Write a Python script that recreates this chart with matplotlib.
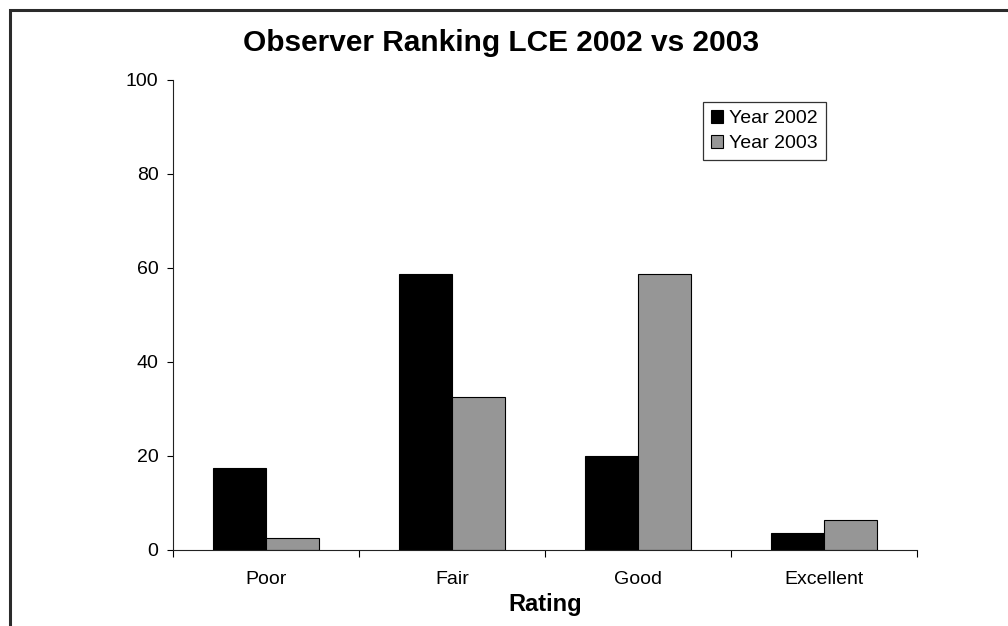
import numpy as np
import matplotlib
matplotlib.use("Agg")
import matplotlib.pyplot as plt
from matplotlib.patches import Rectangle, Patch

plt.rcParams['font.family'] = ['Liberation Sans', 'DejaVu Sans']

# ---------------------------------------------------------
# Data
# ---------------------------------------------------------
categories = ["Poor", "Fair", "Good", "Excellent"]
year_2002 = [17.5, 58.7, 19.9, 3.7]
year_2003 = [2.6, 32.5, 58.7, 6.3]
series_labels = ["Year 2002", "Year 2003"]
y_ticks = [0, 20, 40, 60, 80, 100]

colors = ["#000000", "#969696"]

fig = plt.figure(figsize=(10.08, 6.26), dpi=100)
ax = fig.add_axes([173 / 1008, 1 - 550 / 626, 744 / 1008, 470 / 626])

x = np.arange(len(categories))
w = 0.285
ax.bar(x - w / 2, year_2002, width=w, color=colors[0], edgecolor="black", linewidth=0.8)
ax.bar(x + w / 2, year_2003, width=w, color=colors[1], edgecolor="black", linewidth=0.8)

ax.set_xlim(-0.5, len(categories) - 0.5)
ax.set_ylim(0, 100)
ax.set_yticks(y_ticks)
ax.set_xticks(x)
ax.set_xticklabels(categories)
ax.set_xticks(np.arange(len(categories) + 1) - 0.5, minor=True)

ax.tick_params(axis="x", which="major", length=0, pad=15, labelsize=14)
ax.tick_params(axis="x", which="minor", length=5, width=0.8, direction="out")
ax.tick_params(axis="y", length=4.5, width=0.8, pad=6, labelsize=14)

for side in ["top", "right"]:
    ax.spines[side].set_visible(False)
for side in ["left", "bottom"]:
    ax.spines[side].set_linewidth(0.8)
    ax.spines[side].set_color("#222222")

# titles
fig.text(0.497, 1 - 43 / 626, "Observer Ranking LCE 2002 vs 2003",
         ha="center", va="center", fontsize=21.5, fontweight="bold")
fig.text(545 / 1008, 1 - 605 / 626, "Rating",
         ha="center", va="center", fontsize=17, fontweight="bold")

# legend
handles = [Patch(facecolor=c, edgecolor="black", linewidth=0.8) for c in colors]
leg = fig.legend(handles, series_labels, loc="upper left",
                 bbox_to_anchor=(703 / 1008, 1 - 102 / 626),
                 fontsize=14, frameon=True, fancybox=False,
                 handlelength=0.65, handleheight=0.65, handletextpad=0.3,
                 borderpad=0.4, labelspacing=0.4, borderaxespad=0)
leg.get_frame().set_edgecolor("black")
leg.get_frame().set_linewidth(0.9)

# outer frame of the chart area (right and bottom run off the image)
fig.patches.append(Rectangle((10 / 1008, -0.1), 1.2, 1 - 10 / 626 + 0.1,
                             transform=fig.transFigure, fill=False,
                             edgecolor="#2b2b2b", linewidth=2.2))

fig.savefig("out.png", dpi=100)
